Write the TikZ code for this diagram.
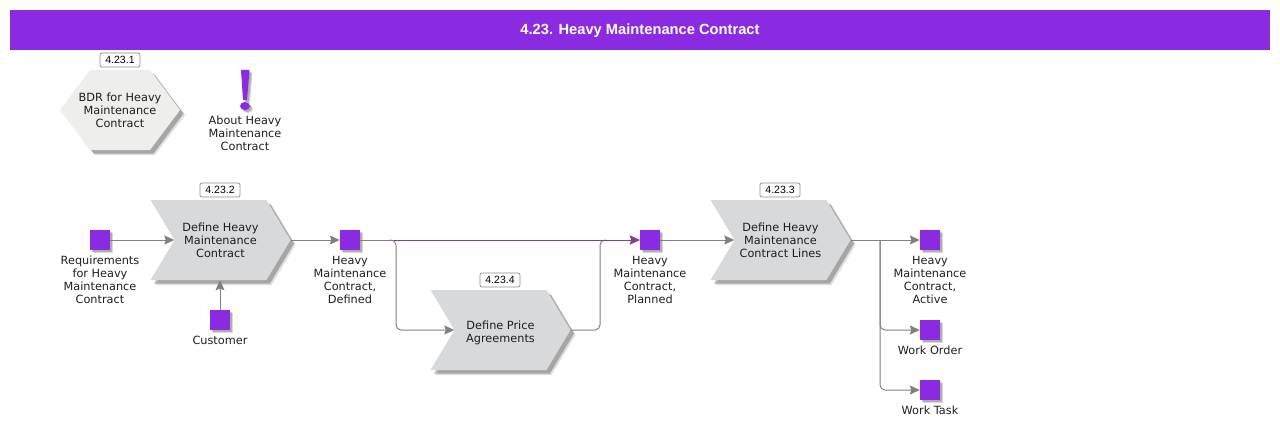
\documentclass[tikz,border=0pt]{standalone}
\usepackage{fontspec}
\setmainfont{DejaVu Sans}
\newfontfamily\arialfont{Liberation Sans}
\usetikzlibrary{arrows.meta,shapes.symbols,shadows}
\definecolor{barpurple}{RGB}{138,43,226}
\definecolor{funcgrey}{RGB}{216,217,219}
\definecolor{hexgrey}{RGB}{238,238,237}
\definecolor{linkgrey}{RGB}{128,128,128}
\definecolor{pathpurple}{RGB}{139,58,150}
\definecolor{textgrey}{RGB}{30,30,30}
\tikzset{
    softshadow/.style={
        general shadow={shadow xshift=5pt,shadow yshift=-5pt,fill=black,opacity=.13},
        general shadow={shadow xshift=3.5pt,shadow yshift=-3.5pt,fill=black,opacity=.25}},
    smallshadow/.style={
        general shadow={shadow xshift=3pt,shadow yshift=-3pt,fill=black,opacity=.15},
        general shadow={shadow xshift=2pt,shadow yshift=-2pt,fill=black,opacity=.2}},
    funcbox/.style={signal,signal to=east,signal from=west,signal pointer angle=118,
        softshadow,fill=funcgrey,inner sep=0pt,minimum width=140pt,minimum height=80pt,
        align=center,font=\fontsize{11.3}{13}\selectfont,text=textgrey},
    hexbox/.style={signal,signal to=east and west,signal pointer angle=106.26,
        softshadow,fill=hexgrey,inner ysep=0pt,inner xsep=-12pt,minimum width=120pt,minimum height=80pt,
        align=center,font=\fontsize{11.3}{13}\selectfont,text=textgrey},
    statebox/.style={rectangle,smallshadow,fill=barpurple,inner sep=0pt,minimum size=20pt},
    statetext/.style={align=center,font=\fontsize{11.3}{13}\selectfont,text=textgrey,inner sep=0pt,anchor=north},
    badge/.style={draw=black!45,rounded corners=2pt,fill=white,line width=.7pt,inner sep=0pt,
        minimum width=40pt,minimum height=14pt,font=\arialfont\fontsize{10.5}{12}\selectfont},
    link/.style={draw=linkgrey,line width=1pt,rounded corners=5pt},
    linkto/.style={link,-{Stealth[length=10pt,width=9pt,inset=1.5pt]}},
    pathto/.style={draw=pathpurple,line width=1pt,-{Stealth[length=10pt,width=9pt,inset=1.5pt]}}
}
\begin{document}
\begin{tikzpicture}[x=1pt,y=-1pt]
    \useasboundingbox (0,0) rectangle (1280,428);
    % title
    \node[fill=barpurple,minimum width=1260pt,minimum height=40pt,inner sep=0pt,text=white,
        text height=10pt,text depth=0pt,
        font=\arialfont\bfseries\fontsize{14.7}{16}\selectfont] (title) at (640,30) {4.23. Heavy Maintenance Contract};

    % top row
    \node[hexbox] (bdr) at (120,110) {BDR for Heavy\\Maintenance\\Contract};
    \node[badge] (badgeA) at (120,60) {4.23.1};
    \fill[barpurple,smallshadow] (241,70) -- (249.5,70) -- (247,100) -- (243,100) -- cycle;
    \fill[barpurple,smallshadow] (245,106) ellipse (5 and 4);
    \node[statetext] (about) at (245,116) {About Heavy\\Maintenance\\Contract};

    % functions
    \node[funcbox] (defContract) at (220.5,240) {Define Heavy\\Maintenance\\Contract};
    \node[badge] (badgeB) at (220,190) {4.23.2};
    \node[funcbox] (defLines) at (780.5,240) {Define Heavy\\Maintenance\\Contract Lines};
    \node[badge] (badgeC) at (780,190) {4.23.3};
    \node[funcbox] (defPrice) at (500.5,330) {\rule{0pt}{15pt}Define Price\\Agreements};
    \node[badge] (badgeD) at (500,280) {4.23.4};

    % states
    \node[statebox] (req) at (100,240) {};
    \node[statetext] (reqText) at (100,256) {Requirements\\for Heavy\\Maintenance\\Contract};
    \node[statebox] (customer) at (220,320) {};
    \node[statetext] (customerText) at (220,336) {Customer};
    \node[statebox] (defined) at (350,240) {};
    \node[statetext] (definedText) at (350,256) {Heavy\\Maintenance\\Contract,\\Defined};
    \node[statebox] (planned) at (650,240) {};
    \node[statetext] (plannedText) at (650,256) {Heavy\\Maintenance\\Contract,\\Planned};
    \node[statebox] (active) at (930,240) {};
    \node[statetext] (activeText) at (930,256) {Heavy\\Maintenance\\Contract,\\Active};
    \node[statebox] (order) at (930,330) {};
    \node[statetext] (orderText) at (930,346) {Work Order};
    \node[statebox] (task) at (930,390) {};
    \node[statetext] (taskText) at (930,406) {Work Task};

    % splits
    \coordinate (splitA) at (396,240);
    \coordinate (splitB) at (600,240);
    \coordinate (splitC) at (880,240);

    % connectors
    \draw[linkto] (req.east) -- (defContract.west);
    \draw[linkto] (customer.north) -- (customer.north|-defContract.south);
    \draw[linkto] (defContract.east) -- (defined.west);
    \draw[linkto] (defined.east) -- (planned.west);
    \draw[linkto] ([xshift=-6pt]splitA) -- (splitA) -- (splitA|-defPrice.west) -- (defPrice.west);
    \draw[link] (defPrice.east) -- (splitB|-defPrice.east) -- (splitB) -- ([xshift=6pt]splitB);
    \draw[pathto] ([xshift=-2pt]splitA) -- (planned.west);
    \draw[linkto] (planned.east) -- (defLines.west);
    \draw[linkto] (defLines.east) -- (active.west);
    \draw[linkto] (splitC) -- (splitC|-order.west) -- (order.west);
    \draw[linkto] (splitC) -- (splitC|-task.west) -- (task.west);
\end{tikzpicture}
\end{document}
